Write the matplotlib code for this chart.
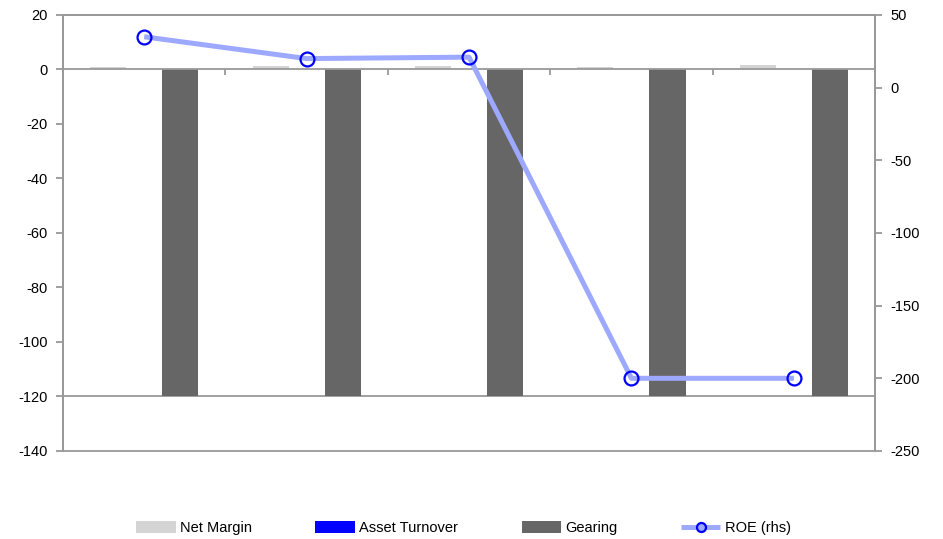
import numpy as np
import matplotlib
matplotlib.use('Agg')
import matplotlib.pyplot as plt

plt.rcParams['font.family'] = ['Liberation Sans', 'DejaVu Sans']
plt.rcParams['font.size'] = 10.5
plt.rcParams['axes.unicode_minus'] = False

# data
groups = ['1', '2', '3', '4', '5']
net_margin = [1.0, 1.3, 1.1, 0.8, 1.8]
asset_turnover = [0.0, 0.0, 0.0, 0.0, 0.0]
gearing = [-120, -120, -120, -120, -120]
roe = [35, 20, 21, -200, -200]

left_ticks = list(range(-140, 21, 20))
right_ticks = list(range(-250, 51, 50))

gray = '#999999'

fig = plt.figure(figsize=(9.43, 5.39), dpi=100)
ax = fig.add_axes([0.0668, 0.1633, 0.8612, 0.8089])
ax2 = ax.twinx()

x = np.arange(len(groups))
w = 0.222
ax.bar(x - w, net_margin, w, color='#d4d4d4', label='Net Margin', zorder=2)
ax.bar(x, asset_turnover, w, color='#0000ff', label='Asset Turnover', zorder=2)
ax.bar(x + w, gearing, w, color='#666666', label='Gearing', zorder=2)
ax.axhline(-120, color=gray, lw=1.3, zorder=1)

ax2.plot(x, roe, color='#9da8ff', lw=3.6, marker='o', ms=10,
         markerfacecolor='none', markeredgecolor='#0000ff', markeredgewidth=1.6,
         label='ROE (rhs)', solid_capstyle='butt')

ax.set_xlim(-0.5, len(groups) - 0.5)
ax.set_ylim(-140, 20)
ax2.set_ylim(-250, 50)
ax.set_yticks(left_ticks)
ax2.set_yticks(right_ticks)

# category axis crosses at zero
ax.spines['bottom'].set_position(('data', 0))
ax.set_xticks(np.arange(0.5, len(groups) - 0.5, 1))
ax.set_xticklabels([])
ax.tick_params(axis='x', direction='out', length=4, color=gray, width=1.3)
ax2.tick_params(axis='x', length=0)

for a in (ax, ax2):
    for s in a.spines.values():
        s.set_color(gray)
        s.set_linewidth(1.3)
ax.tick_params(axis='y', direction='out', length=5, color=gray, width=1.3, pad=6)
ax2.tick_params(axis='y', direction='out', length=5, color=gray, width=1.3, pad=6)

h1, l1 = ax.get_legend_handles_labels()
h2, l2 = ax2.get_legend_handles_labels()
leg = fig.legend(h1 + h2, l1 + l2, loc='lower center', ncol=4, frameon=False,
                 bbox_to_anchor=(0.4915, -0.017), handlelength=2.7, handleheight=0.8,
                 columnspacing=4.35, handletextpad=0.3)
for ln in leg.get_lines():
    ln.set_markersize(6.5)
    ln.set_markerfacecolor('#9da8ff')

fig.savefig('out.png', dpi=100)
